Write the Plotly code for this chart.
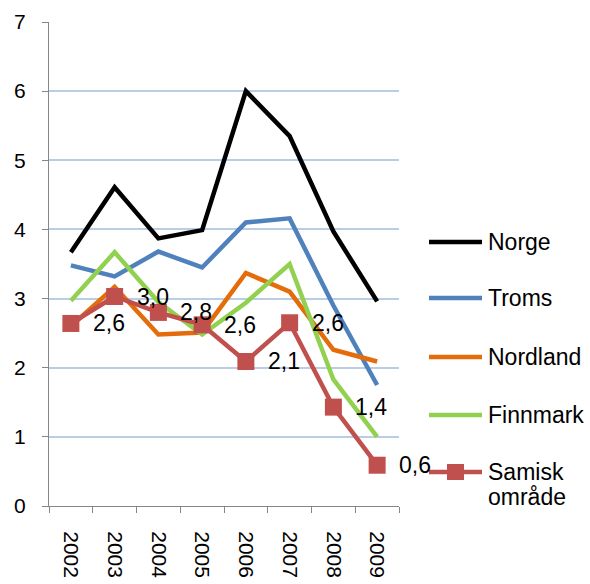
import plotly.graph_objects as go

years = ["2002", "2003", "2004", "2005", "2006", "2007", "2008", "2009"]
norge = [3.67, 4.61, 3.87, 3.99, 6.0, 5.35, 3.97, 2.96]
troms = [3.48, 3.32, 3.68, 3.45, 4.1, 4.16, 2.9, 1.75]
nordland = [2.6, 3.17, 2.48, 2.51, 3.37, 3.1, 2.26, 2.09]
finnmark = [2.97, 3.67, 2.95, 2.48, 2.94, 3.5, 1.83, 1.0]
samisk = [2.64, 3.03, 2.8, 2.62, 2.09, 2.65, 1.43, 0.59]
samisk_labels = ["2,6", "3,0", "2,8", "2,6", "2,1", "2,6", "1,4", "0,6"]
series_names = ["Norge", "Troms", "Nordland", "Finnmark", "Samisk<br>område"]
series_colors = ["#000000", "#4F81BD", "#E46C0A", "#92D050", "#C0504D"]

FONT = "Liberation Sans, Arial, sans-serif"
FS = 21

W, H = 590, 584
ML, MR, MT, MB = 49, 191, 22, 78
PW, PH = W - ML - MR, H - MT - MB


def px2paper(px, py):
    return (px - ML) / PW, (H - MB - py) / PH


fig = go.Figure()
all_vals = [norge, troms, nordland, finnmark]
for name, vals, col in zip(series_names[:4], all_vals, series_colors[:4]):
    fig.add_trace(go.Scatter(x=years, y=vals, name=name, mode="lines",
                             line=dict(color=col, width=4.5), showlegend=False))
fig.add_trace(go.Scatter(x=years, y=samisk, name=series_names[4],
                         mode="lines+markers",
                         line=dict(color=series_colors[4], width=4.5),
                         marker=dict(symbol="square", size=17, color=series_colors[4]),
                         showlegend=False))

for i, (v, lab) in enumerate(zip(samisk, samisk_labels)):
    fig.add_annotation(x=i, y=v, xref="x", yref="y", text=lab, showarrow=False,
                       xanchor="left", yanchor="middle", xshift=20,
                       font=dict(size=23, family=FONT, color="#000000"))

# manual legend (pixel layout converted to paper coordinates)
leg_rows = [242, 298, 357, 415, 472]
for name, col, ry in zip(series_names, series_colors, leg_rows):
    x0, y0 = px2paper(429, ry)
    x1, _ = px2paper(482, ry)
    fig.add_shape(type="line", xref="paper", yref="paper", x0=x0, x1=x1, y0=y0, y1=y0,
                  line=dict(color=col, width=4.5))
    tx, _ = px2paper(486, ry)
    parts = name.split("<br>")
    for k, part in enumerate(parts):
        _, ty = px2paper(486, ry + 25 * k)
        fig.add_annotation(xref="paper", yref="paper", x=tx, y=ty, text=part,
                           showarrow=False, xanchor="left", yanchor="middle",
                           font=dict(size=23, family=FONT, color="#000000"))
    if len(parts) > 1:
        mx0, my0 = px2paper(447, ry + 8)
        mx1, my1 = px2paper(464, ry - 8)
        fig.add_shape(type="rect", xref="paper", yref="paper", x0=mx0, x1=mx1,
                      y0=my0, y1=my1, fillcolor=col, line=dict(width=0))

fig.update_layout(
    width=W, height=H,
    margin=dict(l=ML, r=MR, t=MT, b=MB),
    paper_bgcolor="white", plot_bgcolor="white",
    font=dict(family=FONT, size=FS, color="#000000"),
    showlegend=False,
)
fig.update_xaxes(type="category", showline=True, linecolor="#868686", linewidth=1,
                 ticks="outside", tickson="boundaries", ticklen=6, tickcolor="#868686",
                 tickangle=90, showgrid=False, tickfont=dict(size=FS),
                 ticklabelstandoff=20, range=[-0.5, 7.5], automargin=False)
fig.update_yaxes(range=[0, 7], dtick=1, showline=True, linecolor="#868686", linewidth=1,
                 ticks="outside", ticklen=6, tickcolor="#868686",
                 showgrid=True, gridcolor="#B9CDE5", gridwidth=1.5,
                 zeroline=False, tickfont=dict(size=FS), ticklabelstandoff=12,
                 automargin=False)

fig.write_html("out.html", config={"displayModeBar": False},
               post_script="document.body.style.margin='0';")
